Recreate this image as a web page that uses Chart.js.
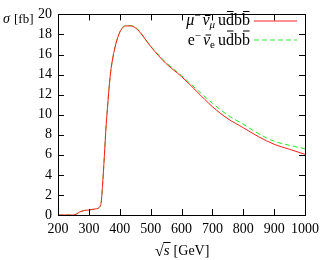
<!DOCTYPE html>
<html>
<head>
<meta charset="utf-8">
<script src="https://cdn.jsdelivr.net/npm/chart.js@4/dist/chart.umd.min.js"></script>
<style>
  html, body { margin: 0; padding: 0; background: #fff; }
  #wrap { width: 325px; height: 260px; position: relative; }
</style>
</head>
<body>
<div id="wrap"><canvas id="c"></canvas></div>
<script>
// sqrt(s) in GeV
const energies = [200, 250, 260, 270, 285, 300, 320, 335, 340, 345, 350, 355, 360, 367, 372, 383, 397, 410, 420, 435, 457, 500, 550, 600, 650, 700, 750, 800, 850, 900, 950, 1000];
// sigma [fb], mu- nubar_mu u dbar b bbar
const sigmaMu = [0, 0, 0.1, 0.3, 0.45, 0.5, 0.6, 0.8, 1.3, 3.3, 5.8, 8.5, 10.6, 13.2, 14.6, 16.5, 18.0, 18.7, 18.85, 18.85, 18.5, 16.8, 15.1, 13.8, 12.3, 10.8, 9.6, 8.7, 7.8, 7.05, 6.55, 6.05];
// sigma [fb], e- nubar_e u dbar b bbar
const sigmaE = [0, 0, 0.1, 0.3, 0.45, 0.5, 0.6, 0.8, 1.3, 3.3, 5.8, 8.5, 10.6, 13.2, 14.6, 16.5, 18.0, 18.75, 18.9, 18.9, 18.55, 16.85, 15.2, 13.9, 12.5, 11.15, 9.95, 9.05, 8.1, 7.35, 6.95, 6.6];
const xTicks = [200, 300, 400, 500, 600, 700, 800, 900, 1000];
const yTicks = [0, 2, 4, 6, 8, 10, 12, 14, 16, 18, 20];

const FONT = "'Liberation Serif', serif";
const RED = "#ff1e1e";
const GREEN = "#28eb28";

const pts = (ys) => energies.map((x, i) => ({ x: x, y: ys[i] }));

// text piece: bar = indices of chars that get an overline, gap = space after
function piece(txt, style, size, dy, bar, gap) {
  return { txt, style, size, dy, bar: bar || [], gap: gap || 0 };
}
const legendRows = [
  {
    color: RED, dash: [],
    parts: [
      piece("μ", "italic", 16, 0), piece("−", "", 11, -6, [], 2), piece("ν", "italic", 16, 0, [0]),
      piece("μ", "italic", 11, 3, [], 3), piece("udbb", "", 16, 0, [1, 3])
    ],
    y: 25
  },
  {
    color: GREEN, dash: [5, 3],
    parts: [
      piece("e", "", 16, 0), piece("−", "", 11, -6, [], 2), piece("ν", "italic", 16, 0, [0]),
      piece("e", "", 11, 3, [], 3), piece("udbb", "", 16, 0, [1, 3])
    ],
    y: 44.5
  }
];

// frame, inward ticks, axis titles, legend
const decor = {
  id: "decor",
  afterDraw(chart) {
    const { ctx, chartArea: a, scales } = chart;
    const tl = 6;
    ctx.save();
    ctx.lineWidth = 1;

    // legend sample lines (soft, like the curves)
    legendRows.forEach((r) => {
      const ly = Math.round(r.y - 4.5);
      ctx.strokeStyle = r.color;
      ctx.lineWidth = 1.2;
      ctx.setLineDash(r.dash);
      ctx.beginPath();
      ctx.moveTo(254, ly);
      ctx.lineTo(297, ly);
      ctx.stroke();
    });
    ctx.setLineDash([]);
    ctx.lineWidth = 1;

    ctx.strokeStyle = "#000";
    ctx.strokeRect(Math.round(a.left) + 0.5, Math.round(a.top) + 0.5, Math.round(a.right - a.left), Math.round(a.bottom - a.top));
    ctx.beginPath();
    xTicks.forEach((v) => {
      const px = Math.round(scales.x.getPixelForValue(v)) + 0.5;
      ctx.moveTo(px, a.bottom); ctx.lineTo(px, a.bottom - tl);
      ctx.moveTo(px, a.top); ctx.lineTo(px, a.top + tl);
    });
    yTicks.forEach((v) => {
      const py = Math.round(scales.y.getPixelForValue(v)) + 0.5;
      ctx.moveTo(a.left, py); ctx.lineTo(a.left + tl, py);
      ctx.moveTo(a.right, py); ctx.lineTo(a.right - tl, py);
    });
    ctx.stroke();

    ctx.fillStyle = "#000";
    ctx.textBaseline = "alphabetic";
    ctx.textAlign = "left";
    // y title
    ctx.font = "italic 14px " + FONT;
    ctx.fillText("σ", 3, 23);
    ctx.font = "13px " + FONT;
    ctx.fillText("[fb]", 14, 23);

    // x title: sqrt(s) [GeV]
    const cx = 155, by = 255;
    ctx.font = "16px " + FONT;
    ctx.fillText("√", cx, by + 1);
    const sw = ctx.measureText("√").width;
    ctx.font = "italic 15px " + FONT;
    ctx.fillText("s", cx + sw, by);
    const ssw = ctx.measureText("s").width;
    ctx.beginPath();
    ctx.moveTo(cx + sw - 0.5, by - 12.5);
    ctx.lineTo(cx + sw + ssw + 1, by - 12.5);
    ctx.stroke();
    ctx.font = "14px " + FONT;
    ctx.fillText("[GeV]", cx + sw + ssw + 4, by);

    // legend text
    const rightText = 250;
    legendRows.forEach((r) => {
      let w = 0;
      r.parts.forEach((p) => {
        ctx.font = (p.style ? p.style + " " : "") + p.size + "px " + FONT;
        p.w = ctx.measureText(p.txt).width;
        w += p.w + p.gap;
      });
      let x = rightText - w;
      r.parts.forEach((p) => {
        ctx.font = (p.style ? p.style + " " : "") + p.size + "px " + FONT;
        ctx.fillText(p.txt, x, r.y + p.dy);
        p.bar.forEach((ci) => {
          const x0 = x + ctx.measureText(p.txt.slice(0, ci)).width;
          const cw = ctx.measureText(p.txt[ci]).width;
          const top = /[bd]/.test(p.txt[ci]) ? 14 : 10;
          const sl = p.style === "italic" ? 1.5 : 0;
          ctx.beginPath();
          ctx.moveTo(x0 + 1 + sl, r.y - top + 0.5);
          ctx.lineTo(x0 + cw - 0.5 + sl, r.y - top + 0.5);
          ctx.stroke();
        });
        x += p.w + p.gap;
      });
    });
    ctx.restore();
  }
};

new Chart(document.getElementById("c"), {
  type: "line",
  data: {
    datasets: [
      { label: "μ−ν̄μud̄bb̄", data: pts(sigmaMu), borderColor: RED, borderWidth: 1, pointRadius: 0, cubicInterpolationMode: "monotone", fill: false },
      { label: "e−ν̄eud̄bb̄", data: pts(sigmaE), borderColor: GREEN, borderWidth: 1, borderDash: [5, 3], pointRadius: 0, cubicInterpolationMode: "monotone", fill: false }
    ]
  },
  options: {
    responsive: true,
    maintainAspectRatio: false,
    animation: false,
    layout: { padding: { top: 5, right: 15, left: 0, bottom: 0 } },
    plugins: { legend: { display: false }, tooltip: { enabled: false } },
    scales: {
      x: {
        type: "linear", min: 200, max: 1000,
        afterBuildTicks: (s) => { s.ticks = xTicks.map((v) => ({ value: v })); },
        afterFit: (s) => { s.height = 45; },
        grid: { display: false, drawTicks: false }, border: { display: false },
        ticks: { color: "#000", font: { family: FONT, size: 14 }, padding: 6, maxRotation: 0, autoSkip: false, callback: (v) => String(v) }
      },
      y: {
        min: 0, max: 20,
        afterBuildTicks: (s) => { s.ticks = yTicks.map((v) => ({ value: v })); },
        afterFit: (s) => { s.width = 58; },
        grid: { display: false, drawTicks: false }, border: { display: false },
        ticks: { color: "#000", font: { family: FONT, size: 14 }, padding: 6, callback: (v) => String(v) }
      }
    }
  },
  plugins: [decor]
});
</script>
</body>
</html>
